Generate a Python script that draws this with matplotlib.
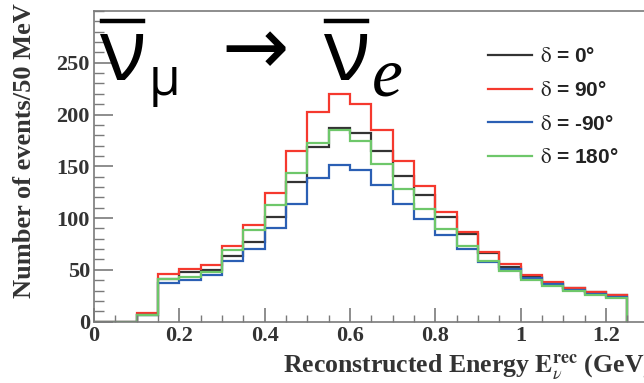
import numpy as np
import matplotlib
matplotlib.use("Agg")
import matplotlib.pyplot as plt
from matplotlib.lines import Line2D
from matplotlib.ticker import MultipleLocator, FixedLocator, FuncFormatter

# bin edges: 50 MeV bins from 0 to 1.25 GeV
edges = np.round(np.arange(0.0, 1.25001, 0.05), 3)

delta_0 = [0, 0, 6.5, 41, 48, 50, 63, 77, 101, 135, 169, 187, 182, 165, 141,
           122, 101, 85, 66, 53, 43, 37, 32, 29, 25.5]
delta_90 = [0, 0, 8.6, 46, 51, 55, 73, 93, 124, 165, 202, 220, 210, 185, 155,
            131, 106, 86.5, 67.5, 55.5, 45, 38, 32.7, 29, 25.5]
delta_m90 = [0, 0, 6, 37.5, 40, 45, 58.5, 70.5, 90, 113.5, 139, 151.5, 146.5, 132, 114,
             99, 84, 70.5, 58, 51, 42, 36, 31, 27, 24]
delta_180 = [0, 0, 6.5, 41.5, 43.5, 48, 69, 88, 113, 144, 172.8, 185, 174, 152.6, 128,
             108.5, 89.5, 73, 58.5, 49, 40, 34.6, 29.8, 25.6, 22.4]

labels = ["0", "90", "-90", "180"]
series = [delta_0, delta_90, delta_m90, delta_180]
colors = ["#333333", "#f5392e", "#2b5fb4", "#6ec76a"]
xtick_vals = [0, 0.2, 0.4, 0.6, 0.8, 1.0, 1.2]
ytick_vals = [0, 50, 100, 150, 200, 250]

W, H = 644, 383


def fx(x):
    return x / W


def fy(y):
    return 1 - y / H


def main():
    plt.rcParams.update({
        "mathtext.fontset": "stix",
        "xtick.direction": "in",
        "ytick.direction": "in",
    })

    fig = plt.figure(figsize=(W / 100, H / 100), dpi=100)
    # axes extends past right border of the picture (cropped original)
    ax = fig.add_axes([fx(94), 1 - 321.6 / H, 640 / W, 310.6 / H])

    for vals, lab, col in zip(series, labels, colors):
        ax.stairs(vals, edges, color=col, lw=1.6,
                  label=r"$\mathrm{\delta}$ = " + lab + "°")

    ax.set_xlim(0, 1.5)
    ax.set_ylim(0, 300)

    ax.xaxis.set_major_locator(FixedLocator(xtick_vals))
    ax.xaxis.set_minor_locator(MultipleLocator(0.05))
    ax.yaxis.set_major_locator(FixedLocator(ytick_vals))
    ax.yaxis.set_minor_locator(MultipleLocator(10))
    ax.xaxis.set_major_formatter(FuncFormatter(lambda v, p: f"{v:g}"))

    spine_col = "#7a7a7a"
    for s in ax.spines.values():
        s.set_color(spine_col)
        s.set_linewidth(1.2)
    ax.tick_params(which="major", length=10, width=1.2, color=spine_col,
                   labelsize=16, labelcolor="#333333", pad=3)
    ax.tick_params(which="minor", length=5, width=1.0, color=spine_col)
    ax.tick_params(axis="y", which="major", length=14)
    ax.tick_params(axis="y", which="minor", length=7)
    for t in ax.get_xticklabels() + ax.get_yticklabels():
        t.set_family("Liberation Serif")
        t.set_fontweight("bold")

    ax.set_ylabel("Number of events/50 MeV", family="Liberation Serif",
                  fontweight="bold", fontsize=19, color="#333333",
                  ha="right", va="center")
    ax.yaxis.set_label_coords(-(94 - 25) / 640, (321.6 - 3) / 310.6)

    ax.set_xlabel(r"Reconstructed Energy $\mathbf{E}_{\nu}^{\mathbf{rec}}$ (GeV)",
                  family="Liberation Serif", fontweight="bold", fontsize=18.5,
                  color="#333333", ha="left", va="center")
    ax.xaxis.set_label_coords((283 - 94) / 640, -(368 - 321.6) / 310.6)

    leg = ax.legend(loc="upper left", bbox_to_anchor=((480 - 94) / 640, 1 - 28 / 310.6),
                    frameon=False, handlelength=2.1, handletextpad=0.4,
                    labelspacing=0.7, borderaxespad=0,
                    prop={"family": "Liberation Sans", "weight": "bold", "size": 15})
    for t in leg.get_texts():
        t.set_color("#222222")

    # title: anti-muon-neutrino -> anti-electron-neutrino
    fam = ["Open Sans", "DejaVu Sans"]
    fig.text(fx(100), fy(80), "ν", family=fam, fontsize=62, va="baseline", ha="left")
    fig.text(fx(149), fy(95), "μ", family=fam, fontsize=37, va="baseline", ha="left")
    fig.text(fx(221), fy(74), "→", family="DejaVu Sans", fontsize=58, va="baseline", ha="left")
    fig.text(fx(324), fy(80), "ν", family=fam, fontsize=62, va="baseline", ha="left")
    fig.text(fx(372), fy(95), "e", family="Liberation Serif", style="italic",
             fontsize=50, va="baseline", ha="left")
    for x0, x1 in [(102, 143), (326, 367)]:
        fig.add_artist(Line2D([fx(x0), fx(x1)], [fy(21), fy(21)],
                              transform=fig.transFigure, color="black", lw=3.2))

    fig.savefig("out.png", dpi=100)
    plt.close(fig)


if __name__ == "__main__":
    main()
